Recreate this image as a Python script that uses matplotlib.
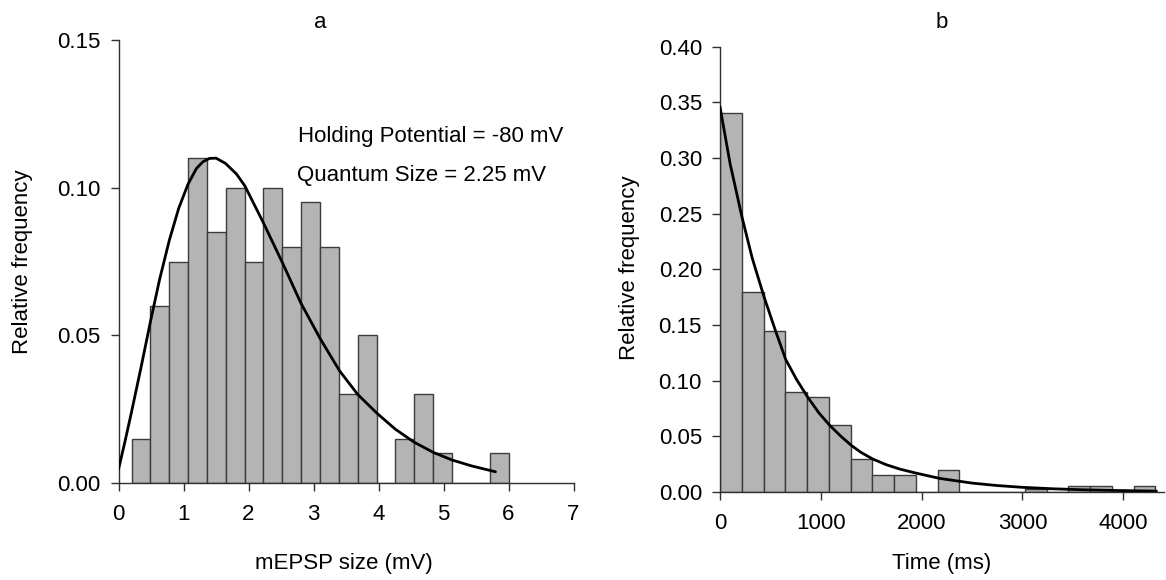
import matplotlib
matplotlib.use("Agg")
import matplotlib.pyplot as plt

plt.rcParams['font.family'] = ['Liberation Sans', 'DejaVu Sans']

# ---- Panel a data ----
a_bin_start = 0.2
a_bin_width = 0.29
a_heights = [0.015, 0.060, 0.075, 0.110, 0.085, 0.100, 0.075, 0.100, 0.080, 0.095,
             0.080, 0.030, 0.050, 0.000, 0.015, 0.030, 0.010, 0.000, 0.000, 0.010]
a_curve_x = [0.0, 0.093, 0.196, 0.35, 0.49, 0.633, 0.782, 0.926, 1.07, 1.199, 1.30,
             1.40, 1.50, 1.647, 1.816, 1.944, 2.227, 2.526, 2.804, 3.10, 3.40, 3.68,
             3.977, 4.26, 4.55, 4.84, 5.13, 5.43, 5.8]
a_curve_y = [0.0046, 0.0134, 0.0236, 0.0395, 0.0545, 0.0690, 0.0822, 0.0930, 0.1012,
             0.1065, 0.1088, 0.1099, 0.1100, 0.1082, 0.1046, 0.1006, 0.0882, 0.0744,
             0.0610, 0.0490, 0.0380, 0.0300, 0.0236, 0.0182, 0.0138, 0.0104, 0.0078,
             0.0058, 0.0038]
a_xticks = [0, 1, 2, 3, 4, 5, 6, 7]
a_yticks = [0.00, 0.05, 0.10, 0.15]

# ---- Panel b data ----
b_bin_start = 0
b_bin_width = 216
b_heights = [0.340, 0.180, 0.145, 0.090, 0.085, 0.060, 0.030, 0.015, 0.015, 0.000,
             0.020, 0.000, 0.000, 0.000, 0.0025, 0.000, 0.005, 0.005, 0.000, 0.005]
b_curve_x = [0, 100, 218, 320, 437, 550, 652, 760, 867, 980, 1086, 1200, 1301, 1400,
             1516, 1650, 1787, 1953, 2180, 2500, 2750, 3000, 3300, 3600, 3900, 4330]
b_curve_y = [0.346, 0.295, 0.247, 0.210, 0.1753, 0.145, 0.1190, 0.1010, 0.0856,
             0.0712, 0.0601, 0.0500, 0.0420, 0.0355, 0.0296, 0.0245, 0.0205, 0.0168,
             0.0122, 0.0080, 0.0058, 0.0042, 0.0029, 0.0020, 0.0014, 0.0008]
b_xticks = [0, 1000, 2000, 3000, 4000]
b_yticks = [0.00, 0.05, 0.10, 0.15, 0.20, 0.25, 0.30, 0.35, 0.40]

W, H = 1166, 580
fig = plt.figure(figsize=(W / 100, H / 100), dpi=100)

bar_fc = '#b4b4b4'
bar_ec = '#3c3c3c'
fs = 16


def style(ax):
    for s in ['top', 'right']:
        ax.spines[s].set_visible(False)
    for s in ['left', 'bottom']:
        ax.spines[s].set_color('#303030')
        ax.spines[s].set_linewidth(1.0)
    ax.tick_params(direction='out', length=6.0, width=1.0, color='#303030',
                   labelsize=fs, pad=7)
    ax.tick_params(axis='x', pad=9)


# Panel a
ax1 = fig.add_axes([118.5 / W, 1 - 483 / H, 455 / W, 443 / H])
a_lefts = [a_bin_start + i * a_bin_width for i in range(len(a_heights))]
ax1.bar(a_lefts, a_heights, width=a_bin_width, align='edge', color=bar_fc,
        edgecolor=bar_ec, linewidth=1.0, zorder=2)
ax1.plot(a_curve_x, a_curve_y, color='black', lw=2.0, zorder=3,
         solid_joinstyle='round', solid_capstyle='round')
ax1.set_xlim(0, 7)
ax1.set_ylim(0, 0.15)
ax1.set_xticks(a_xticks)
ax1.set_yticks(a_yticks)
ax1.set_yticklabels([f"{v:.2f}" for v in a_yticks])
style(ax1)
ax1.text(2.765, 0.1172, "Holding Potential = -80 mV", fontsize=fs, va='center', ha='left')
ax1.text(2.75, 0.1040, "Quantum Size = 2.25 mV", fontsize=fs, va='center', ha='left')

# Panel b
ax2 = fig.add_axes([720 / W, 1 - 492 / H, 443.5 / W, 445.3 / H])
b_lefts = [b_bin_start + i * b_bin_width for i in range(len(b_heights))]
ax2.bar(b_lefts, b_heights, width=b_bin_width, align='edge', color=bar_fc,
        edgecolor=bar_ec, linewidth=1.0, zorder=2)
ax2.plot(b_curve_x, b_curve_y, color='black', lw=2.0, zorder=3,
         solid_joinstyle='round', solid_capstyle='round')
ax2.set_xlim(0, 4400)
ax2.set_ylim(0, 0.40)
ax2.set_xticks(b_xticks)
ax2.set_yticks(b_yticks)
ax2.set_yticklabels([f"{v:.2f}" for v in b_yticks])
style(ax2)

# Titles and axis labels
fig.text(320 / W, 1 - 22 / H, "a", fontsize=fs, ha='center', va='center')
fig.text(942 / W, 1 - 22 / H, "b", fontsize=fs, ha='center', va='center')
fig.text(23 / W, 1 - 262 / H, "Relative frequency", fontsize=fs, rotation=90,
         ha='center', va='center')
fig.text(630 / W, 1 - 268 / H, "Relative frequency", fontsize=fs, rotation=90,
         ha='center', va='center')
fig.text(344 / W, 1 - 563 / H, "mEPSP size (mV)", fontsize=fs, ha='center', va='center')
fig.text(942 / W, 1 - 563 / H, "Time (ms)", fontsize=fs, ha='center', va='center')

fig.savefig("out.png", dpi=100)
